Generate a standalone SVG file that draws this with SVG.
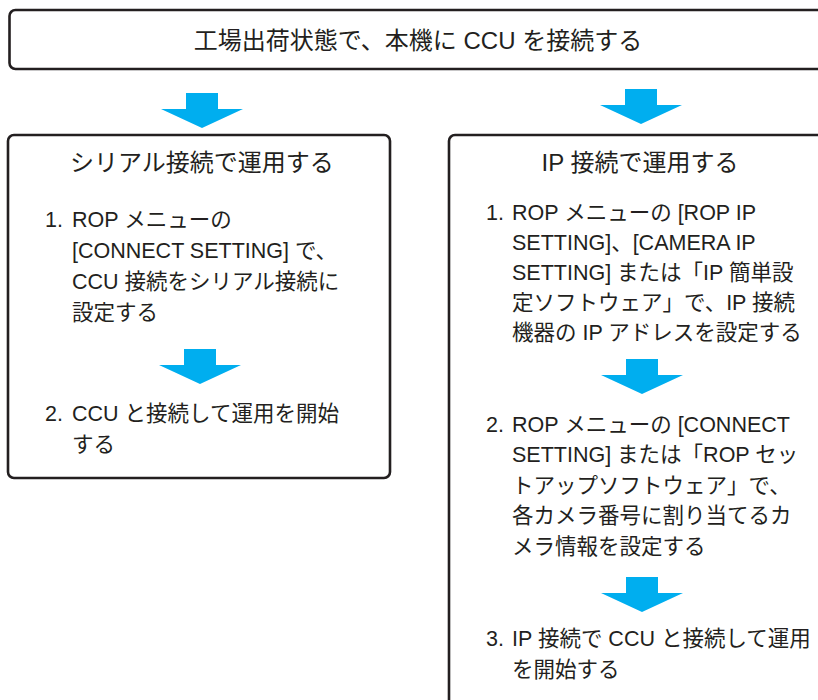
<svg xmlns="http://www.w3.org/2000/svg" xmlns:xlink="http://www.w3.org/1999/xlink" width="818" height="700" viewBox="0 0 818 700">
<style>
.box{fill:#fff;stroke:#231F20;stroke-width:2.6}
.t{font-family:"Liberation Sans","Noto Sans CJK JP",sans-serif;fill:#231F20}
.h{font-size:24px;text-anchor:middle}
.b{font-size:21.5px}
.n{font-size:21.5px;text-anchor:end}
.arr{fill:#00AEEF}
</style>
<defs>
<path id="arr" class="arr" d="M-16,0 H16 V16 H41 L0,35 L-41,16 H-16 Z"/>
</defs>
<rect width="818" height="700" fill="#fff"/>
<g id="start">
<rect class="box" x="9.5" y="10" width="830" height="59" rx="6"/>
<text class="t h" x="418" y="49">工場出荷状態で、本機に CCU を接続する</text>
</g>
<g id="serial">
<rect class="box" x="8" y="135" width="382" height="343" rx="6"/>
<text class="t h" x="202" y="171">シリアル接続で運用する</text>
<text class="t n" x="63" y="226.5">1.</text>
<text class="t b" x="72" y="226.5">ROP メニューの</text>
<text class="t b" x="72" y="257.5">[CONNECT SETTING] で、</text>
<text class="t b" x="72" y="288.5">CCU 接続をシリアル接続に</text>
<text class="t b" x="72" y="319.5">設定する</text>
<text class="t n" x="63" y="420.5">2.</text>
<text class="t b" x="72" y="420.5">CCU と接続して運用を開始</text>
<text class="t b" x="72" y="451.5">する</text>
</g>
<g id="ip">
<rect class="box" x="449" y="135" width="400" height="600" rx="6"/>
<text class="t h" x="640" y="171">IP 接続で運用する</text>
<text class="t n" x="504" y="220">1.</text>
<text class="t b" x="512" y="220">ROP メニューの [ROP IP</text>
<text class="t b" x="512" y="250">SETTING]、[CAMERA IP</text>
<text class="t b" x="512" y="280">SETTING] または「IP 簡単設</text>
<text class="t b" x="512" y="310">定ソフトウェア」で、IP 接続</text>
<text class="t b" x="512" y="340">機器の IP アドレスを設定する</text>
<text class="t n" x="504" y="431.5">2.</text>
<text class="t b" x="512" y="431.5">ROP メニューの [CONNECT</text>
<text class="t b" x="512" y="462">SETTING] または「ROP セッ</text>
<text class="t b" x="512" y="492.5">トアップソフトウェア」で、</text>
<text class="t b" x="512" y="523">各カメラ番号に割り当てるカ</text>
<text class="t b" x="512" y="553.5">メラ情報を設定する</text>
<text class="t n" x="504" y="645.5">3.</text>
<text class="t b" x="512" y="645.5">IP 接続で CCU と接続して運用</text>
<text class="t b" x="512" y="676.5">を開始する</text>
</g>
<g id="connectors">
<use xlink:href="#arr" x="202" y="93"/>
<use xlink:href="#arr" x="641" y="89"/>
<use xlink:href="#arr" x="200" y="349"/>
<use xlink:href="#arr" x="642" y="359"/>
<use xlink:href="#arr" x="642" y="577"/>
</g>
</svg>
